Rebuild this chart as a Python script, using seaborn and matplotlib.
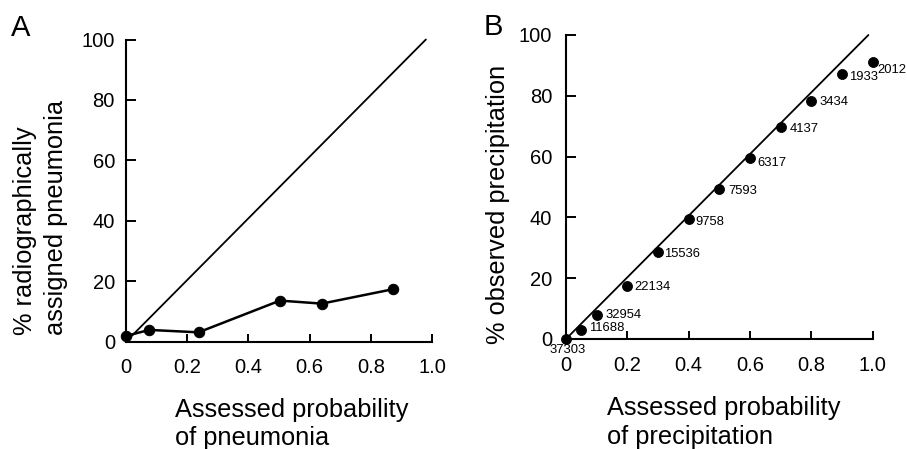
import matplotlib
matplotlib.use("Agg")
import matplotlib.pyplot as plt
import seaborn as sns
import pandas as pd

# ---- data ----
pneu_prob = [0.0, 0.076, 0.237, 0.503, 0.64, 0.874]
pneu_obs = [1.9, 3.9, 3.1, 13.6, 12.6, 17.4]
diag_a_x = [0.0, 0.98]
diag_a_y = [0.0, 100.0]

precip_prob = [0.0, 0.05, 0.1, 0.2, 0.3, 0.4, 0.5, 0.6, 0.7, 0.8, 0.9, 1.0]
precip_obs = [0.0, 3.0, 7.9, 17.5, 28.5, 39.5, 49.3, 59.4, 69.8, 78.4, 87.2, 91.0]
precip_n = [37303, 11688, 32954, 22134, 15536, 9758, 7593, 6317, 4137, 3434, 1933, 2012]
diag_b_x = [0.0, 0.986]
diag_b_y = [0.0, 100.0]

x_ticks = [0, 0.2, 0.4, 0.6, 0.8, 1.0]
x_ticklabels = ["0", "0.2", "0.4", "0.6", "0.8", "1.0"]
y_ticks = [0, 20, 40, 60, 80, 100]
y_ticklabels = ["0", "20", "40", "60", "80", "100"]

df_a = pd.DataFrame({"p": pneu_prob, "o": pneu_obs})
df_b = pd.DataFrame({"p": precip_prob, "o": precip_obs, "n": precip_n})

# ---- style ----
sns.set_style("ticks")
plt.rcParams["font.family"] = ["Liberation Sans", "DejaVu Sans"]
plt.rcParams["text.color"] = "black"
plt.rcParams["axes.labelcolor"] = "black"
plt.rcParams["xtick.color"] = "black"
plt.rcParams["ytick.color"] = "black"
plt.rcParams["axes.edgecolor"] = "black"

W, H = 907, 449
fig = plt.figure(figsize=(W / 100, H / 100), dpi=100)
ax_a = fig.add_axes([126 / W, 1 - 341.7 / H, 306 / W, 302.2 / H])
ax_b = fig.add_axes([566 / W, 1 - 339 / H, 306.7 / W, 304 / H])

for ax, ypad in ((ax_a, 8), (ax_b, 10)):
    ax.set_xlim(0, 1.0)
    ax.set_ylim(0, 100)
    sns.despine(ax=ax)
    for s in ("left", "bottom"):
        ax.spines[s].set_linewidth(1.5)
        ax.spines[s].set_color("black")
    ax.set_xticks(x_ticks)
    ax.set_xticklabels(x_ticklabels)
    ax.set_yticks(y_ticks)
    ax.set_yticklabels(y_ticklabels)
    ax.tick_params(axis="x", direction="in", length=6, width=1.4,
                   pad=12, labelsize=14.5, colors="black", labelcolor="black")
    ax.tick_params(axis="y", direction="in", length=7, width=1.4,
                   pad=ypad, labelsize=14.5, colors="black", labelcolor="black")
    ax.set_facecolor("none")

# Panel A
ax_a.plot(diag_a_x, diag_a_y, color="black", lw=1.3, clip_on=False)
sns.lineplot(data=df_a, x="p", y="o", ax=ax_a, color="black", lw=1.8,
             marker="o", markersize=7.5, markeredgecolor="black",
             clip_on=False, legend=False)
ax_a.set_xlabel("")
ax_a.set_ylabel("")

# Panel B
ax_b.plot(diag_b_x, diag_b_y, color="black", lw=1.3, clip_on=False)
sns.scatterplot(data=df_b, x="p", y="o", ax=ax_b, color="black", s=52,
                edgecolor="black", clip_on=False, legend=False, zorder=3)
ax_b.set_xlabel("")
ax_b.set_ylabel("")

label_offsets = [(1.5, -11), (7.5, 2), (8.5, 0), (7, -1), (6.5, -2), (6.5, -3),
                 (8.5, -2), (7.5, -5), (8.5, -2.5), (8.5, -1.5), (6.5, -3), (4.5, -8)]
for (px, py, n), (dx, dy) in zip(zip(precip_prob, precip_obs, precip_n),
                                 label_offsets):
    ha = "center" if n == precip_n[0] else "left"
    ax_b.annotate(str(n), (px, py), xytext=(dx, dy),
                  textcoords="offset pixels", ha=ha, va="center",
                  fontsize=9.4, color="black", annotation_clip=False)

# Axis labels
fs = 18.3
fig.text(175 / W, 1 - 417 / H, "Assessed probability", fontsize=fs,
         ha="left", va="baseline", color="black")
fig.text(175 / W, 1 - 445 / H, "of pneumonia", fontsize=fs,
         ha="left", va="baseline", color="black")
fig.text(607 / W, 1 - 415 / H, "Assessed probability", fontsize=fs,
         ha="left", va="baseline", color="black")
fig.text(607 / W, 1 - 444 / H, "of precipitation", fontsize=fs,
         ha="left", va="baseline", color="black")

fig.text(32 / W, 1 - 335 / H, "% radiographically", fontsize=fs,
         rotation=90, rotation_mode="anchor", ha="left", va="baseline",
         color="black")
fig.text(63 / W, 1 - 335 / H, "assigned pneumonia", fontsize=fs,
         rotation=90, rotation_mode="anchor", ha="left", va="baseline",
         color="black")
fig.text(505 / W, 1 - 344 / H, "% observed precipitation", fontsize=fs,
         rotation=90, rotation_mode="anchor", ha="left", va="baseline",
         color="black")

fig.text(11 / W, 1 - 36 / H, "A", fontsize=21, ha="left", va="baseline",
         color="black")
fig.text(484 / W, 1 - 35 / H, "B", fontsize=21, ha="left", va="baseline",
         color="black")

fig.savefig("out.png", dpi=100, facecolor="white")
